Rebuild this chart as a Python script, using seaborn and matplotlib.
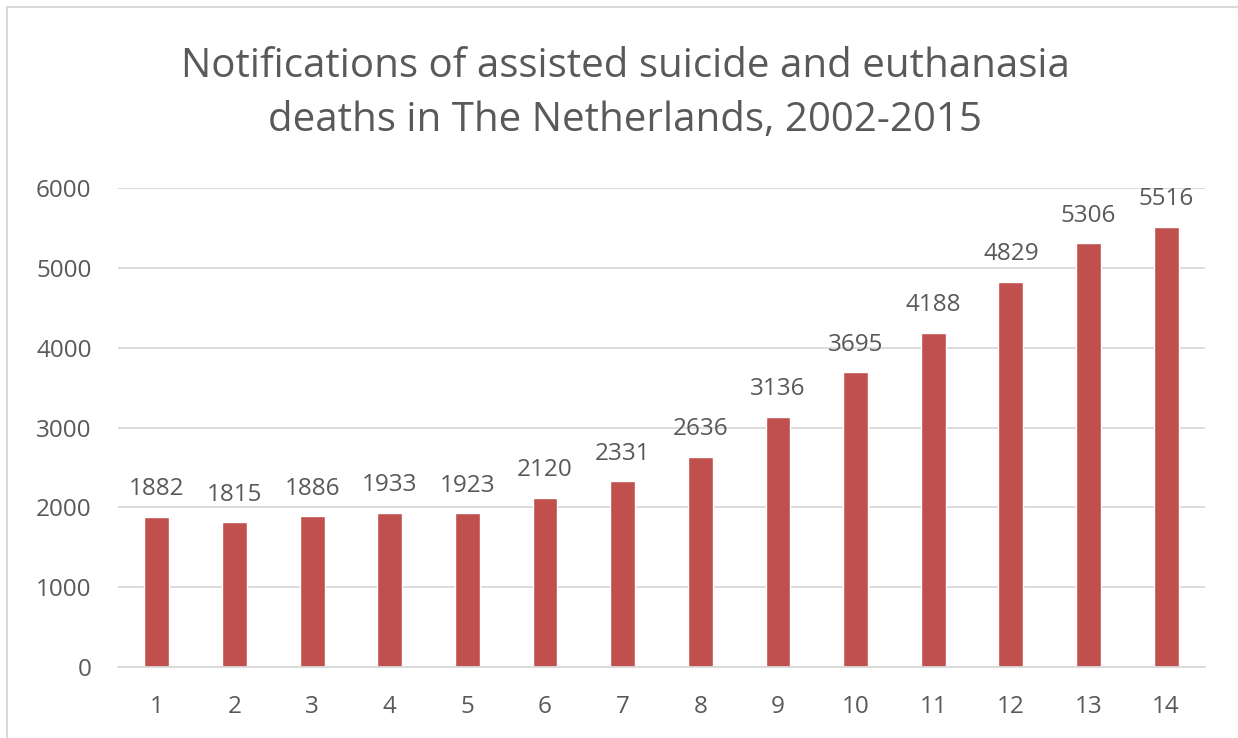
import matplotlib
matplotlib.use("Agg")
import matplotlib.pyplot as plt
import seaborn as sns
import pandas as pd

# ── Data ─────────────────────────────────────────────────────────────────────
years = list(range(1, 15))
notifications = [1882, 1815, 1886, 1933, 1923, 2120, 2331, 2636, 3136,
                 3695, 4188, 4829, 5306, 5516]
y_ticks = [0, 1000, 2000, 3000, 4000, 5000, 6000]
title = "Notifications of assisted suicide and euthanasia\ndeaths in The Netherlands, 2002-2015"

BAR_COLOR = "#C0504D"
TEXT_COLOR = "#595959"
GRID_COLOR = "#D9D9D9"

sns.set_theme(style="white")
plt.rcParams["font.family"] = ["Open Sans", "DejaVu Sans"]

df = pd.DataFrame({"year": [str(y) for y in years], "count": notifications})

fig = plt.figure(figsize=(12.38, 7.38), dpi=100)
ax = fig.add_axes([0.0953, 0.0962, 0.878, 0.649])

sns.barplot(data=df, x="year", y="count", color=BAR_COLOR, width=0.32,
            saturation=1, ax=ax)

# data labels
for i, v in enumerate(notifications):
    ax.annotate(f"{v}", (i, v), xytext=(0, 11), textcoords="offset points",
                ha="center", va="bottom", fontsize=17.5, color=TEXT_COLOR)

ax.set_ylim(0, 6000)
ax.set_xlim(-0.5, len(years) - 0.5)
ax.set_yticks(y_ticks)
ax.yaxis.grid(True, color=GRID_COLOR, linewidth=1.3)
ax.set_axisbelow(True)
for side in ["top", "right", "left"]:
    ax.spines[side].set_visible(False)
ax.spines["bottom"].set_color(GRID_COLOR)
ax.spines["bottom"].set_linewidth(1.3)
ax.tick_params(axis="both", length=0, labelsize=17.5, labelcolor=TEXT_COLOR)
ax.tick_params(axis="x", pad=20)
ax.tick_params(axis="y", pad=19)
ax.set_xlabel("")
ax.set_ylabel("")

fig.text(0.505, 0.873, title, ha="center", va="center", fontsize=29,
         color=TEXT_COLOR, linespacing=1.45)

# light chart border
fig.patches.append(plt.Rectangle((0.006, -0.01), 1.1, 1.0, transform=fig.transFigure,
                                 fill=False, edgecolor=GRID_COLOR, linewidth=1.5))

fig.savefig("out.png", dpi=100)
